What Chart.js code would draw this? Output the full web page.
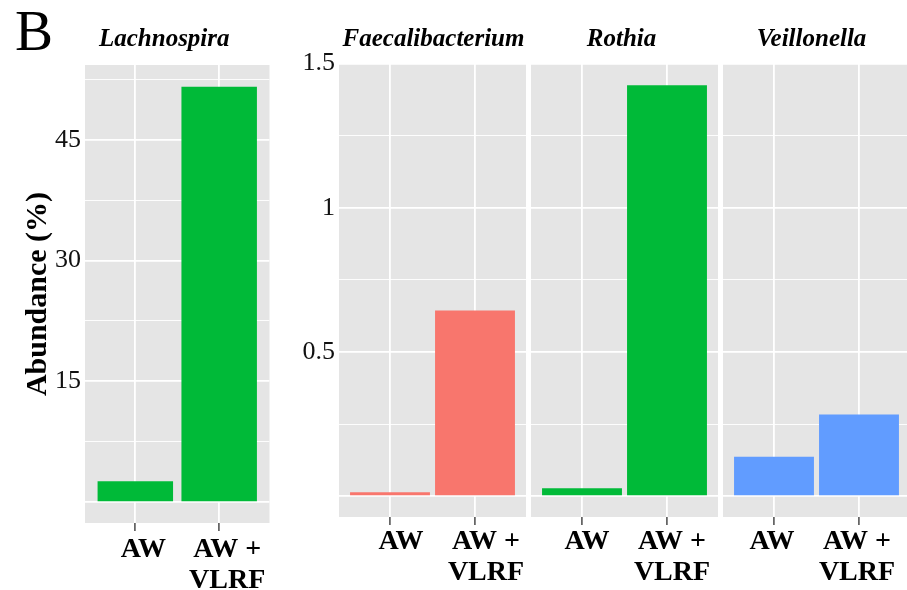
<!DOCTYPE html>
<html>
<head>
<meta charset="utf-8">
<title>Abundance by genus</title>
<script src="https://cdn.jsdelivr.net/npm/chart.js@4.4.1/dist/chart.umd.min.js"></script>
<style>
  html, body { margin: 0; padding: 0; background: #fff; width: 907px; height: 590px; overflow: hidden; position: relative; }
  canvas { position: absolute; top: 0; }
</style>
</head>
<body>
<canvas id="p1" width="280" height="590" style="left:0px"></canvas>
<canvas id="p2" width="250" height="590" style="left:280px"></canvas>
<canvas id="p3" width="195" height="590" style="left:528px"></canvas>
<canvas id="p4" width="200" height="590" style="left:720px"></canvas>
<script>
// ---- data ----
const groups = ['AW', ['AW +', 'VLRF']];
const genera = ['Lachnospira', 'Faecalibacterium', 'Rothia', 'Veillonella'];
const lachnospira = [2.6, 51.6];
const faecalibacterium = [0.014, 0.644];
const rothia = [0.028, 1.425];
const veillonella = [0.137, 0.283];
const lachnoBreaks = [0, 15, 30, 45];
const lachnoLabels = ['', '15', '30', '45'];
const sharedBreaks = [0, 0.5, 1, 1.5];
const sharedLabels = ['', '0.5', '1', '1.5'];
const lachnoLimits = [-2.6, 54.3];
const sharedLimits = [-0.072, 1.502];
const yTitle = 'Abundance (%)';
const panelLetter = 'B';

// ---- style ----
const GREEN = '#00BA38', RED = '#F8766D', BLUE = '#619CFF';
const PANEL_BG = '#E5E5E5';
const SERIF = '"Liberation Serif", "Times New Roman", serif';
Chart.defaults.font.family = SERIF;
Chart.defaults.color = '#111';

// fills the plotting panel and writes the facet strip label above it
const panelPlugin = {
  id: 'panel',
  beforeDraw(chart, args, opts) {
    const a = chart.chartArea, ctx = chart.ctx;
    ctx.save();
    ctx.fillStyle = PANEL_BG;
    ctx.fillRect(a.left, a.top, a.right - a.left, a.bottom - a.top);
    ctx.restore();
  },
  afterDraw(chart, args, opts) {
    const a = chart.chartArea, ctx = chart.ctx;
    ctx.save();
    ctx.fillStyle = '#000';
    ctx.textBaseline = 'alphabetic';
    if (opts.strip) {
      ctx.font = 'italic bold 25px ' + SERIF;
      ctx.textAlign = 'center';
      ctx.fillText(opts.strip, (a.left + a.right) / 2 + (opts.stripDx || 0), 46);
    }
    if (opts.letter) {
      ctx.font = '57px ' + SERIF;
      ctx.textAlign = 'left';
      ctx.fillText(opts.letter, 15, 49.5);
    }
    ctx.restore();
  }
};

// grid lines at every break plus the halfway (minor) lines
function gridValues(breaks, max) {
  const vals = [];
  const step = breaks[1] - breaks[0];
  breaks.forEach(b => { vals.push(b); if (b + step / 2 <= max) vals.push(b + step / 2); });
  return vals;
}

function facet(id, cfg) {
  const canvas = document.getElementById(id);
  const W = canvas.width, H = canvas.height;
  const box = cfg.box;
  const yWidth = box.left - cfg.canvasLeft;
  const xHeight = H - box.bottom;
  const [ymin, ymax] = cfg.limits;
  const gv = gridValues(cfg.breaks, ymax);

  return new Chart(canvas, {
    type: 'bar',
    data: {
      datasets: [{
        data: cfg.values.map((v, i) => ({ x: i, y: v })),
        backgroundColor: cfg.color,
        borderWidth: 0,
        barPercentage: cfg.barPct,
        categoryPercentage: 1
      }]
    },
    options: {
      responsive: false,
      animation: false,
      devicePixelRatio: 1,
      layout: { padding: { left: 0, top: box.top, right: (cfg.canvasLeft + W) - box.right, bottom: 0 } },
      plugins: {
        legend: { display: false },
        tooltip: { enabled: false },
        panel: { strip: cfg.strip, stripDx: cfg.stripDx, letter: cfg.letter }
      },
      scales: {
        x: {
          type: 'linear',
          min: -0.6,
          max: 1.6,
          offset: false,
          afterBuildTicks: s => { s.ticks = groups.map((g, i) => ({ value: i })); },
          afterFit: s => { s.height = xHeight; },
          border: { display: false },
          grid: {
            offset: false,
            color: '#ffffff',
            lineWidth: 1.8,
            drawTicks: true,
            tickLength: 8,
            tickColor: '#555555',
            tickWidth: 1.6
          },
          ticks: {
            autoSkip: false,
            maxRotation: 0,
            padding: cfg.xPad,
            labelOffset: cfg.labelOffset,
            color: '#000',
            font: { size: 28, weight: 'bold', lineHeight: 1.1 },
            callback: v => groups[v]
          }
        },
        y: {
          type: 'linear',
          min: ymin,
          max: ymax,
          afterBuildTicks: s => { s.ticks = gv.map(v => ({ value: v })); },
          afterFit: s => { s.width = yWidth; },
          border: { display: false },
          grid: {
            color: '#ffffff',
            drawTicks: false,
            lineWidth: c => (cfg.breaks.includes(c.tick.value) ? 1.8 : 0.9)
          },
          title: cfg.title ? {
            display: true,
            text: cfg.title,
            color: '#000',
            font: { size: 30, weight: 'bold' },
            padding: { top: 20, bottom: 0 }
          } : { display: false },
          ticks: {
            display: cfg.showLabels,
            autoSkip: false,
            padding: 4,
            color: '#111',
            font: { size: 26 },
            callback: v => {
              const i = cfg.breaks.indexOf(v);
              return i >= 0 ? cfg.labels[i] : '';
            }
          }
        }
      }
    },
    plugins: [panelPlugin]
  });
}

facet('p1', {
  canvasLeft: 0, box: { left: 85, right: 269.5, top: 65, bottom: 523 },
  values: lachnospira, color: GREEN, limits: lachnoLimits,
  breaks: lachnoBreaks, labels: lachnoLabels, showLabels: true,
  title: yTitle, strip: genera[0], stripDx: -13, letter: panelLetter,
  barPct: 0.9, labelOffset: 8, xPad: 3.5
});
facet('p2', {
  canvasLeft: 280, box: { left: 339, right: 526, top: 63, bottom: 517 },
  values: faecalibacterium, color: RED, limits: sharedLimits,
  breaks: sharedBreaks, labels: sharedLabels, showLabels: true,
  strip: genera[1], stripDx: 1, barPct: 0.94, labelOffset: 11, xPad: 1.5
});
facet('p3', {
  canvasLeft: 528, box: { left: 531, right: 718, top: 63, bottom: 517 },
  values: rothia, color: GREEN, limits: sharedLimits,
  breaks: sharedBreaks, labels: sharedLabels, showLabels: false,
  strip: genera[2], stripDx: -3, barPct: 0.94, labelOffset: 5, xPad: 1.5
});
facet('p4', {
  canvasLeft: 720, box: { left: 723, right: 910, top: 63, bottom: 517 },
  values: veillonella, color: BLUE, limits: sharedLimits,
  breaks: sharedBreaks, labels: sharedLabels, showLabels: false,
  strip: genera[3], stripDx: -5, barPct: 0.94, labelOffset: -2, xPad: 1.5
});
</script>
</body>
</html>
